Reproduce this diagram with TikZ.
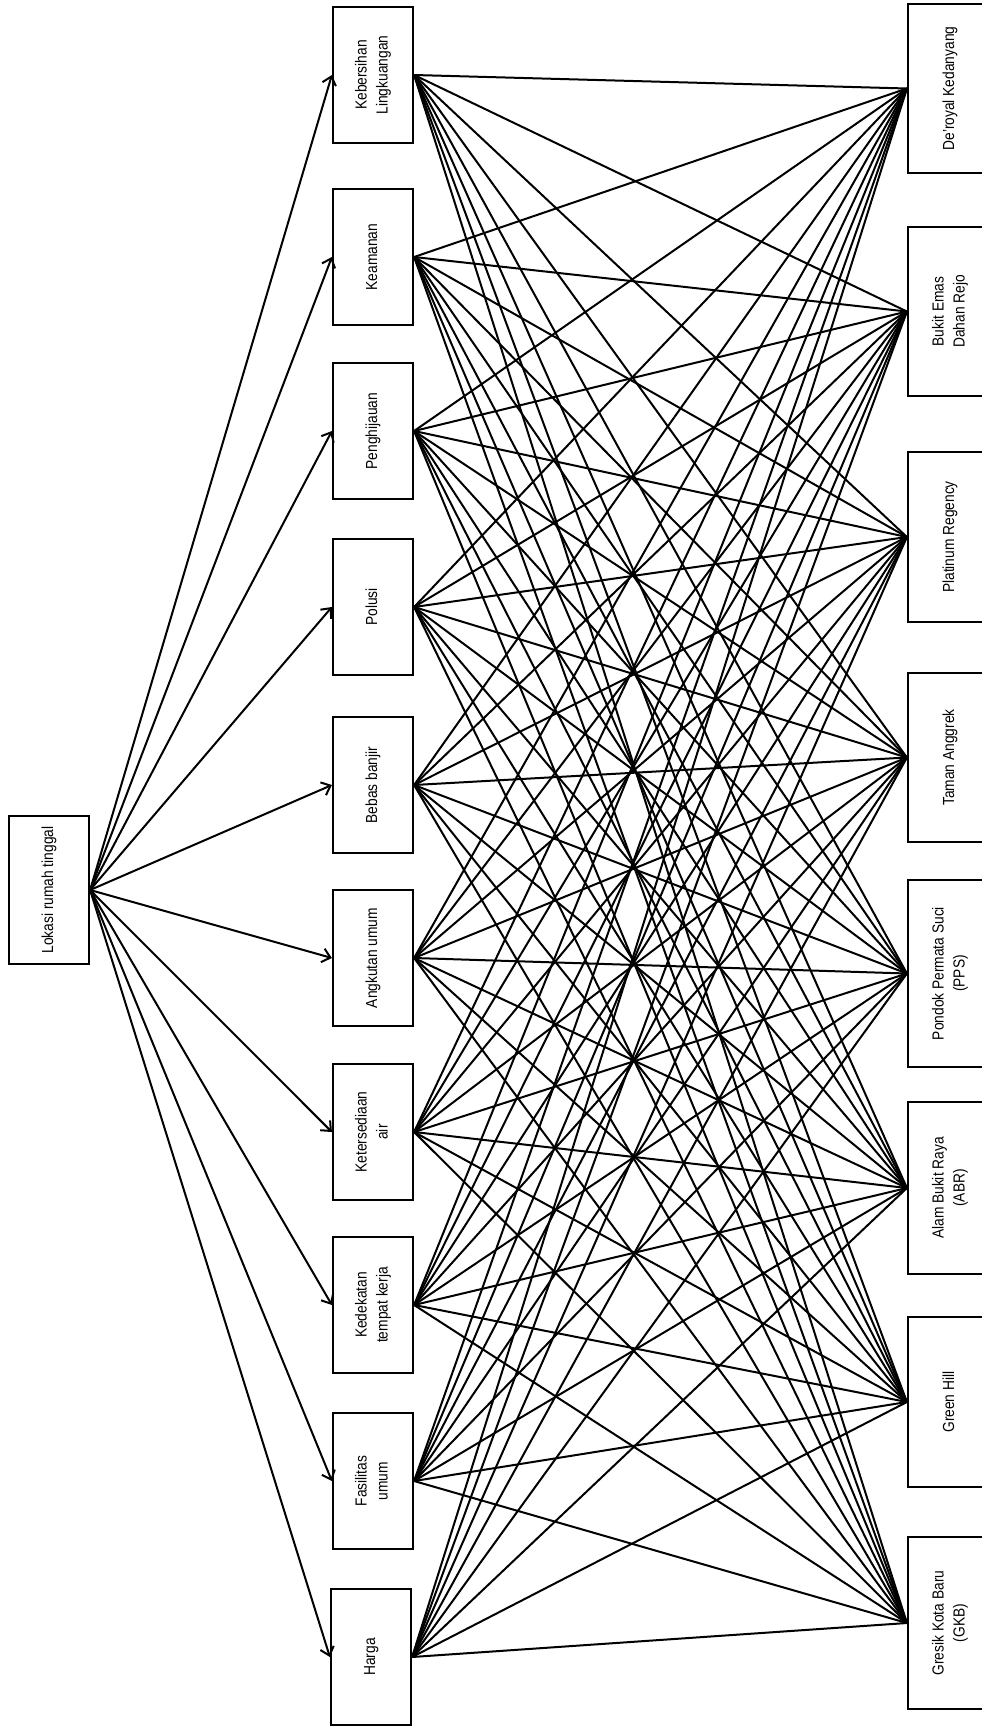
\documentclass[tikz,border=0pt]{standalone}
\usepackage{fontspec}
\setmainfont{Liberation Sans}[FakeStretch=0.86]
\usetikzlibrary{arrows.meta}
\newcommand\rtxt[1]{\rotatebox{90}{\begin{tabular}{@{}c@{}}#1\end{tabular}}}
\begin{document}
\begin{tikzpicture}[x=1pt,y=-1pt,
  font=\fontsize{16}{21}\selectfont,
  box/.style={draw,line width=2.2pt,inner sep=0pt,fill=white},
  crit/.style={box,minimum width=80pt,minimum height=136pt},
  alt/.style={box,minimum width=84pt},
  link/.style={line width=2pt},
  arr/.style={line width=2pt,-{Straight Barb[length=8pt,width=14pt,line width=2pt]}}]
\useasboundingbox (0,0) rectangle (982,1729);
% root
\node[box,minimum width=80pt,minimum height=148pt] (root) at (49,890) {\rtxt{Lokasi rumah tinggal}};
% criteria
\node[crit] (c1) at (373,75) {\rtxt{Kebersihan\\Lingkuangan}};
\node[crit] (c2) at (373,257) {\rtxt{Keamanan}};
\node[crit] (c3) at (373,431) {\rtxt{Penghijauan}};
\node[crit] (c4) at (373,607) {\rtxt{Polusi}};
\node[crit] (c5) at (373,785) {\rtxt{Bebas banjir}};
\node[crit] (c6) at (373,958) {\rtxt{Angkutan umum}};
\node[crit] (c7) at (373,1132) {\rtxt{Ketersediaan\\air}};
\node[crit] (c8) at (373,1305) {\rtxt{Kedekatan\\tempat kerja}};
\node[crit] (c9) at (373,1481) {\rtxt{Fasilitas\\umum}};
\node[crit] (c10) at (371,1657) {\rtxt{Harga}};
% alternatives
\node[alt,minimum height=169pt] (a1) at (950,88.5) {\rtxt{De'royal Kedanyang}};
\node[alt,minimum height=169pt] (a2) at (950,311.5) {\rtxt{Bukit Emas\\Dahan Rejo}};
\node[alt,minimum height=170pt] (a3) at (950,537) {\rtxt{Platinum Regency}};
\node[alt,minimum height=169pt] (a4) at (950,757.5) {\rtxt{Taman Anggrek}};
\node[alt,minimum height=187pt] (a5) at (950,973.5) {\rtxt{Pondok Permata Suci\\(PPS)}};
\node[alt,minimum height=172pt] (a6) at (950,1188) {\rtxt{Alam Bukit Raya\\(ABR)}};
\node[alt,minimum height=170pt] (a7) at (950,1402) {\rtxt{Green Hill}};
\node[alt,minimum height=172pt] (a8) at (950,1623) {\rtxt{Gresik Kota Baru\\(GKB)}};
% arrows
\foreach \i in {1,...,10}{\draw[arr] (root.east) -- (c\i.west);}
% links
\foreach \i in {1,...,10}{\foreach \j in {1,...,8}{\draw[link] (c\i.east) -- (a\j.west);}}
\end{tikzpicture}
\end{document}
